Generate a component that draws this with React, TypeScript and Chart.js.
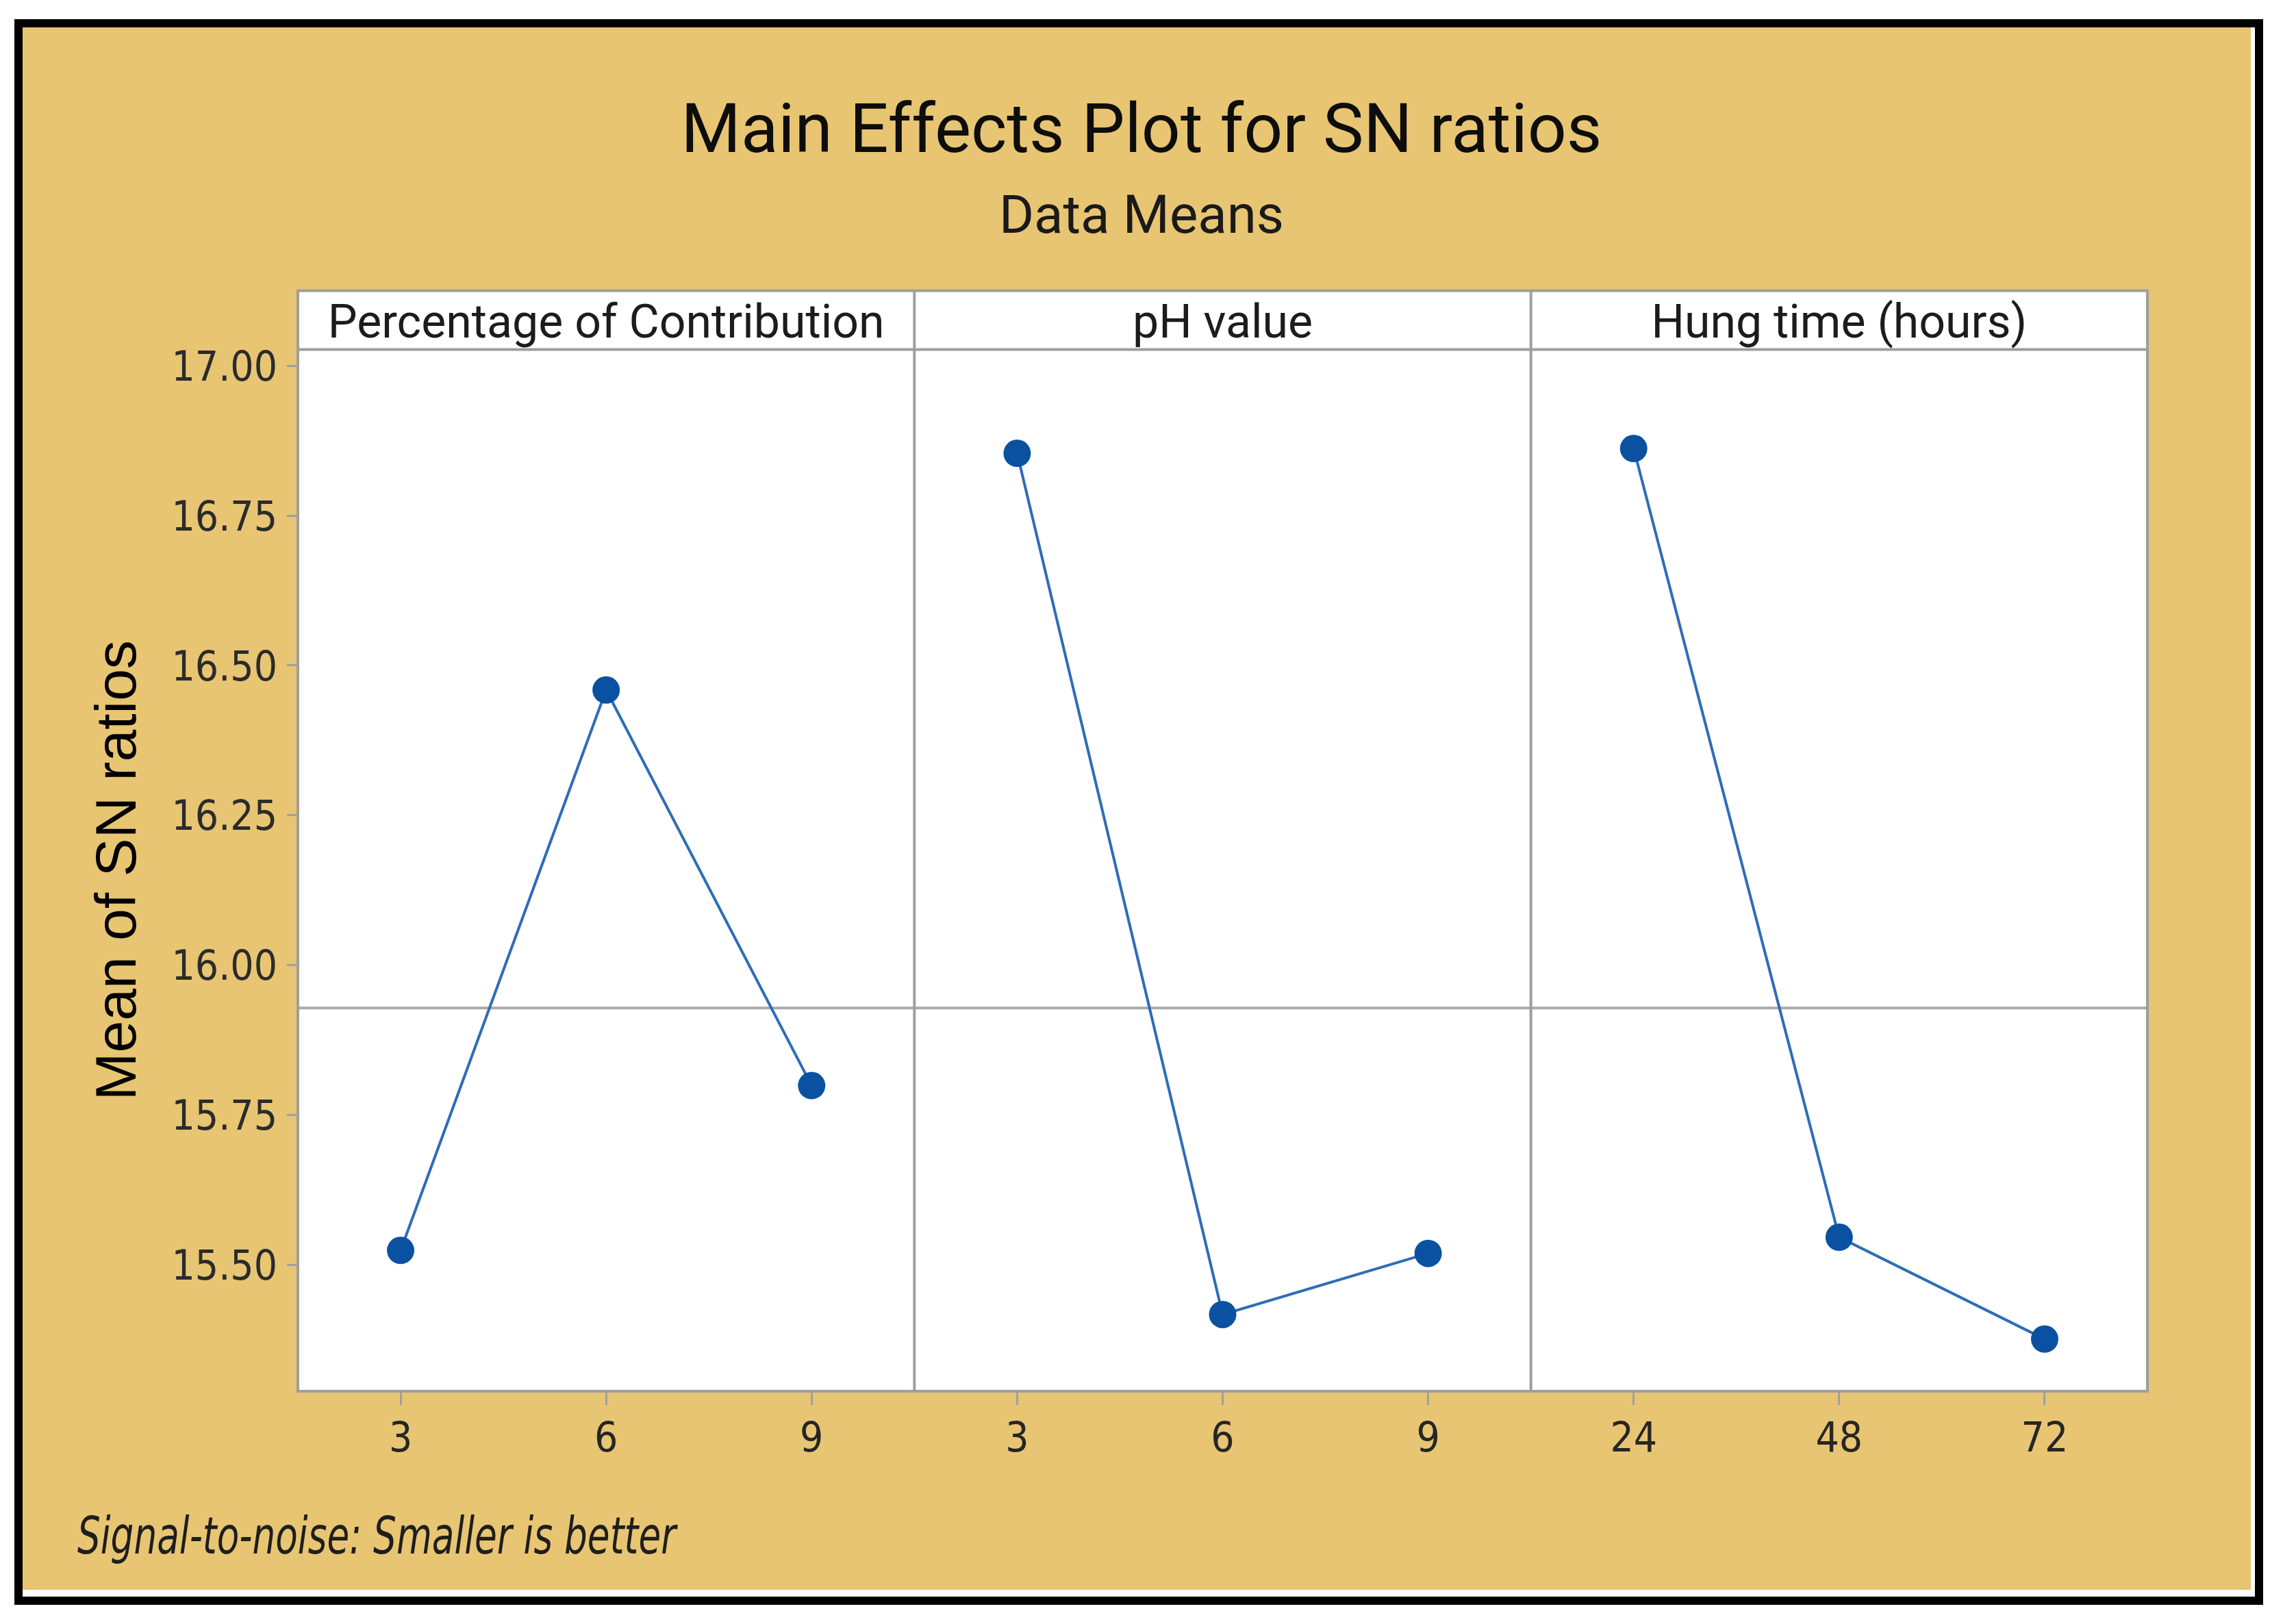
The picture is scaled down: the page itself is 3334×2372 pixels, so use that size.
import { useEffect, useRef } from "react";
import { Chart, registerables } from "chart.js";

Chart.register(...registerables);

// ---- data ----
const factorNames = ["Percentage of Contribution", "pH value", "Hung time (hours)"];
const contributionLevels = ["3", "6", "9"];
const phLevels = ["3", "6", "9"];
const hungTimeLevels = ["24", "48", "72"];
const contributionSN = [15.524, 16.459, 15.799];
const phSN = [16.854, 15.417, 15.519];
const hungTimeSN = [16.862, 15.546, 15.376];
const yTickValues = [15.5, 15.75, 16.0, 16.25, 16.5, 16.75, 17.0];
const yMin = 15.289;
const yMax = 17.027;
const titleText = "Main Effects Plot for SN ratios";
const subtitleText = "Data Means";
const yTitleText = "Mean of SN ratios";
const footnoteText = "Signal-to-noise: Smaller is better";

// ---- styles ----
const W = 3334;
const H = 2372;
const TAN = "#E8C573";
const NARROW = "'Liberation Sans Narrow', 'DejaVu Sans Condensed', Roboto, sans-serif";
const STRIP_H = 86;
const FRAME = "#9E9E9E";

const framePlugin = {
  id: "minitabFrame",
  beforeDraw(chart: any) {
    const { ctx, chartArea: a } = chart;
    ctx.save();
    ctx.fillStyle = "#ffffff";
    ctx.fillRect(0, 0, chart.width, chart.height);
    ctx.fillStyle = "#000000";
    ctx.fillRect(21, 28, 3284, 2316);
    ctx.fillStyle = "#ffffff";
    ctx.fillRect(33, 40, 3260, 2292);
    ctx.fillStyle = TAN;
    ctx.fillRect(33, 40, 3254, 2282);
    const stripTop = a.top - STRIP_H;
    ctx.fillStyle = "#ffffff";
    ctx.fillRect(a.left, stripTop, a.right - a.left, a.bottom - stripTop);
    ctx.restore();
  },
  beforeDatasetsDraw(chart: any) {
    const { ctx, chartArea: a, scales } = chart;
    const all = [...contributionSN, ...phSN, ...hungTimeSN];
    const mean = all.reduce((s, v) => s + v, 0) / all.length;
    const py = scales.y.getPixelForValue(mean);
    const stripTop = a.top - STRIP_H;
    ctx.save();
    ctx.strokeStyle = "#AAAAAA";
    ctx.lineWidth = 4;
    ctx.beginPath();
    ctx.moveTo(a.left, py);
    ctx.lineTo(a.right, py);
    ctx.stroke();

    ctx.strokeStyle = FRAME;
    ctx.lineWidth = 4;
    ctx.strokeRect(a.left, stripTop, a.right - a.left, a.bottom - stripTop);
    ctx.beginPath();
    ctx.moveTo(a.left, a.top);
    ctx.lineTo(a.right, a.top);
    ctx.stroke();
    ["x1", "x2"].forEach((id) => {
      const s = scales[id];
      ctx.beginPath();
      ctx.moveTo(s.left, stripTop);
      ctx.lineTo(s.left, a.bottom);
      ctx.stroke();
    });

    ctx.fillStyle = "#1c1c1c";
    ctx.font = "68px Roboto";
    ctx.textAlign = "center";
    ctx.textBaseline = "middle";
    ["x0", "x1", "x2"].forEach((id, i) => {
      const s = scales[id];
      ctx.fillText(factorNames[i], (s.left + s.right) / 2, (stripTop + a.top) / 2 + 8);
    });
    ctx.restore();
  },
  afterDraw(chart: any) {
    const { ctx } = chart;
    ctx.save();
    ctx.fillStyle = "#1e1e1e";
    ctx.font = `italic 74px ${NARROW}`;
    ctx.textAlign = "left";
    ctx.textBaseline = "middle";
    ctx.translate(113, 2250);
    ctx.scale(0.8, 1);
    ctx.fillText(footnoteText, 0, 0);
    ctx.restore();
  },
};

function xScale(labels: string[]) {
  return {
    type: "category",
    labels,
    offset: true,
    position: "bottom",
    stack: "panels",
    stackWeight: 1,
    grid: {
      display: true,
      drawOnChartArea: false,
      drawTicks: true,
      tickLength: 20,
      offset: false,
      color: "#A0A0A0",
      lineWidth: 3,
    },
    border: { display: false },
    ticks: {
      font: { family: NARROW, size: 60 },
      color: "#262626",
      padding: 16,
      maxRotation: 0,
      autoSkip: false,
    },
    afterFit: (s: any) => {
      s.height = 130;
    },
  };
}

export default function App() {
  const ref = useRef<HTMLCanvasElement | null>(null);

  useEffect(() => {
    document.body.style.margin = "0";
    const canvas = ref.current;
    if (!canvas) return;
    const seriesList = [contributionSN, phSN, hungTimeSN];
    const chart = new Chart(canvas, {
      type: "line",
      data: {
        datasets: seriesList.map((d, i) => ({
          label: factorNames[i],
          data: d,
          xAxisID: `x${i}`,
          yAxisID: "y",
          borderColor: "#2E6DB8",
          borderWidth: 4,
          pointRadius: 20,
          pointHoverRadius: 20,
          pointBackgroundColor: "#0A51A1",
          pointBorderColor: "#0A51A1",
          pointBorderWidth: 0,
          tension: 0,
        })),
      } as any,
      options: {
        animation: false,
        responsive: true,
        maintainAspectRatio: false,
        devicePixelRatio: 1,
        layout: { padding: { left: 198, right: 198, top: 0, bottom: 210 } },
        plugins: {
          legend: { display: false },
          tooltip: { enabled: false },
          title: {
            display: true,
            text: titleText,
            color: "#0d0d0d",
            font: { family: "Roboto", size: 100, weight: "normal" },
            padding: { top: 137, bottom: 0 },
          },
          subtitle: {
            display: true,
            text: subtitleText,
            color: "#1a1a1a",
            font: { family: "Roboto", size: 78, weight: "normal" },
            padding: { top: 17, bottom: 143 },
          },
        },
        scales: {
          x0: xScale(contributionLevels),
          x1: xScale(phLevels),
          x2: xScale(hungTimeLevels),
          y: {
            type: "linear",
            position: "left",
            min: yMin,
            max: yMax,
            afterBuildTicks: (s: any) => {
              s.ticks = yTickValues.map((v) => ({ value: v }));
            },
            ticks: {
              callback: (v: any) => Number(v).toFixed(2),
              font: { family: NARROW, size: 60 },
              color: "#2b2b2b",
              padding: 14,
              labelOffset: 6,
            },
            grid: {
              drawOnChartArea: false,
              drawTicks: true,
              tickLength: 16,
              color: "#A0A0A0",
              lineWidth: 3,
            },
            border: { display: false },
            title: {
              display: true,
              text: yTitleText,
              color: "#000000",
              font: { family: "'Liberation Sans', Arial, sans-serif", size: 84 },
              padding: { top: -74, bottom: 0 },
            },
            afterFit: (s: any) => {
              s.width = 237;
            },
          },
        } as any,
      },
      plugins: [framePlugin],
    });
    return () => chart.destroy();
  }, []);

  return (
    <div style={{ position: "fixed", left: 0, top: 0, width: W, height: H }}>
      <canvas ref={ref} />
    </div>
  );
}
